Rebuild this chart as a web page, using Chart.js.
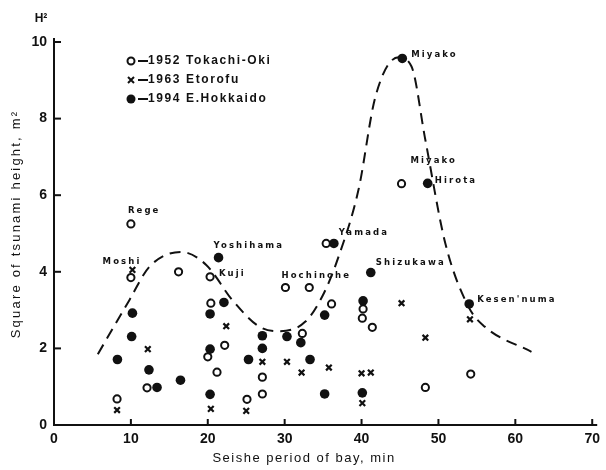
<!DOCTYPE html>
<html>
<head>
<meta charset="utf-8">
<script src="https://cdn.jsdelivr.net/npm/chart.js@4"></script>
<style>
  html, body { margin: 0; padding: 0; background: #fff; }
  #wrap { width: 606px; height: 470px; }
</style>
</head>
<body>
<div id="wrap"><canvas id="chart"></canvas></div>
<script>
// 1952 Tokachi-Oki (open circles)
const tokachiX = [10, 10, 16.2, 20.3, 20.4, 22.2, 20.0, 21.2, 12.1, 8.2, 25.1, 27.1, 27.1, 30.1, 33.2, 32.3, 35.4, 36.1, 40.2, 40.1, 41.4, 45.2, 48.3, 54.2];
const tokachiY = [5.25, 3.85, 4.0, 3.87, 3.18, 2.08, 1.78, 1.38, 0.97, 0.68, 0.67, 1.25, 0.81, 3.59, 3.59, 2.39, 4.74, 3.16, 3.03, 2.79, 2.55, 6.3, 0.98, 1.33];

// 1963 Etorofu (crosses)
const etorofuX = [10.2, 12.2, 8.2, 22.4, 20.4, 25.0, 27.1, 30.3, 32.2, 35.75, 40.0, 41.2, 40.1, 45.2, 48.3, 54.1];
const etorofuY = [4.05, 1.98, 0.39, 2.58, 0.42, 0.37, 1.65, 1.65, 1.37, 1.5, 1.35, 1.37, 0.57, 3.18, 2.28, 2.76];

// 1994 E.Hokkaido (filled circles)
const hokkaidoX = [10.2, 10.1, 8.25, 12.35, 13.4, 16.45, 21.4, 20.3, 22.1, 20.3, 20.3, 25.3, 27.1, 27.1, 30.3, 32.1, 33.3, 35.2, 35.2, 36.4, 41.2, 40.2, 40.1, 45.3, 48.6, 54.0];
const hokkaidoY = [2.92, 2.31, 1.71, 1.44, 0.98, 1.17, 4.37, 2.9, 3.2, 1.98, 0.8, 1.71, 2.33, 2.0, 2.31, 2.15, 1.71, 2.87, 0.81, 4.74, 3.98, 3.24, 0.84, 9.57, 6.31, 3.16];

// dashed envelope
const curveX = [5.7, 9.8, 12.4, 16.5, 19.8, 23.2, 26.7, 29.3, 32.7, 35.1, 37.0, 39.6, 41.8, 44.8, 46.5, 48.3, 50.9, 53.9, 56.0, 62.1];
const curveY = [1.85, 3.26, 4.13, 4.52, 4.18, 3.26, 2.57, 2.45, 2.7, 3.44, 4.39, 6.14, 8.57, 9.6, 9.36, 7.44, 4.74, 3.09, 2.57, 1.91];

// place names: [x, y, name]
const places = [
    [10, 5.25, 'Rege'],
    [10.2, 4.05, 'Moshi'],
    [21.4, 4.37, 'Yoshihama'],
    [20.3, 3.87, 'Kuji'],
    [30.1, 3.59, 'Hochinohe'],
    [36.4, 4.74, 'Yamada'],
    [41.2, 3.98, 'Shizukawa'],
    [45.3, 9.57, 'Miyako'],
    [45.2, 6.3, 'Miyako'],
    [48.6, 6.31, 'Hirota'],
    [54.0, 3.16, "Kesen'numa"]
];
// pixel offsets for each name, and alignment
const placeOffsets = [
    [-3, -13, 'left'], [9, -8, 'right'], [-5, -12, 'left'], [9, -3, 'left'],
    [-4, -12, 'left'], [5, -11, 'left'], [5, -10, 'left'], [9, -4, 'left'],
    [9, -23, 'left'], [7, -3, 'left'], [8, -4, 'left']
];

const xTicks = [0, 10, 20, 30, 40, 50, 60, 70];
const yTicks = [0, 2, 4, 6, 8, 10];

const toPoints = (xs, ys) => xs.map((x, i) => ({ x: x, y: ys[i] }));
const ink = '#111';

const extras = {
    id: 'extras',
    afterDraw(chart) {
        const ctx = chart.ctx;
        const xs = chart.scales.x;
        const ys = chart.scales.y;
        const area = chart.chartArea;
        ctx.save();
        ctx.strokeStyle = ink;
        ctx.fillStyle = ink;
        ctx.lineWidth = 2;

        // axis lines run a little past the ends
        ctx.beginPath();
        ctx.moveTo(area.left, area.top - 4);
        ctx.lineTo(area.left, area.top);
        ctx.moveTo(area.right, area.bottom);
        ctx.lineTo(area.right + 5, area.bottom);
        ctx.stroke();

        // inward ticks
        xTicks.forEach(v => {
            if (v === 0) return;
            const px = xs.getPixelForValue(v);
            ctx.beginPath();
            ctx.moveTo(px, area.bottom);
            ctx.lineTo(px, area.bottom - 6);
            ctx.stroke();
        });
        yTicks.forEach(v => {
            if (v === 0) return;
            const py = ys.getPixelForValue(v);
            ctx.beginPath();
            ctx.moveTo(area.left, py);
            ctx.lineTo(area.left + 7, py);
            ctx.stroke();
        });

        // H² above the axis
        ctx.font = 'bold 12px "Liberation Sans"';
        ctx.textAlign = 'center';
        ctx.textBaseline = 'middle';
        ctx.fillText('H²', area.left - 13, 19);

        // axis titles
        ctx.font = '13px "Liberation Sans"';
        ctx.letterSpacing = '1.5px';
        ctx.fillText('Seishe period of bay, min', 304, 458);
        ctx.save();
        ctx.translate(16, 224);
        ctx.rotate(-Math.PI / 2);
        ctx.letterSpacing = '2.2px';
        ctx.fillText('Square of tsunami height, m²', 0, 0);
        ctx.restore();

        // legend
        const lx = 131;
        const rows = [61, 80, 99];
        ctx.lineWidth = 2;
        ctx.beginPath();
        ctx.arc(lx, rows[0], 3.5, 0, Math.PI * 2);
        ctx.stroke();
        ctx.beginPath();
        ctx.moveTo(lx - 3, rows[1] - 3); ctx.lineTo(lx + 3, rows[1] + 3);
        ctx.moveTo(lx + 3, rows[1] - 3); ctx.lineTo(lx - 3, rows[1] + 3);
        ctx.stroke();
        ctx.beginPath();
        ctx.arc(lx, rows[2], 4.5, 0, Math.PI * 2);
        ctx.fill();
        rows.forEach(r => {
            ctx.beginPath();
            ctx.moveTo(138, r);
            ctx.lineTo(148, r);
            ctx.stroke();
        });
        ctx.font = 'bold 12px "Liberation Sans"';
        ctx.textAlign = 'left';
        ctx.letterSpacing = '1.6px';
        ctx.fillText('1952 Tokachi-Oki', 148, rows[0]);
        ctx.fillText('1963 Etorofu', 148, rows[1]);
        ctx.fillText('1994 E.Hokkaido', 148, rows[2]);

        // place names
        ctx.font = 'bold 8.5px "DejaVu Sans"';
        ctx.letterSpacing = '2.1px';
        places.forEach((p, i) => {
            const off = placeOffsets[i];
            ctx.textAlign = off[2];
            ctx.fillText(p[2], xs.getPixelForValue(p[0]) + off[0], ys.getPixelForValue(p[1]) + off[1]);
        });
        ctx.restore();
    }
};

new Chart(document.getElementById('chart'), {
    type: 'scatter',
    data: {
        datasets: [
            {
                label: '1952 Tokachi-Oki',
                data: toPoints(tokachiX, tokachiY),
                pointStyle: 'circle',
                pointRadius: 3.6,
                borderWidth: 2,
                borderColor: ink,
                backgroundColor: '#fff'
            },
            {
                label: '1963 Etorofu',
                data: toPoints(etorofuX, etorofuY),
                pointStyle: 'crossRot',
                pointRadius: 4,
                borderWidth: 2.2,
                borderColor: ink
            },
            {
                label: '1994 E.Hokkaido',
                data: toPoints(hokkaidoX, hokkaidoY),
                pointStyle: 'circle',
                pointRadius: 4.8,
                borderWidth: 0,
                borderColor: ink,
                backgroundColor: ink
            },
            {
                label: 'envelope',
                data: toPoints(curveX, curveY),
                showLine: true,
                pointRadius: 0,
                borderColor: ink,
                borderWidth: 2,
                borderDash: [11, 7],
                cubicInterpolationMode: 'monotone',
                fill: false
            }
        ]
    },
    options: {
        responsive: true,
        maintainAspectRatio: false,
        animation: false,
        layout: { padding: { top: 42, right: 11, left: 0, bottom: 0 } },
        plugins: {
            legend: { display: false },
            tooltip: { enabled: false }
        },
        scales: {
            x: {
                type: 'linear',
                min: 0,
                max: 70,
                afterBuildTicks: s => { s.ticks = xTicks.map(v => ({ value: v })); },
                afterFit: s => { s.height = 45; },
                grid: { drawOnChartArea: false, drawTicks: false },
                border: { color: ink, width: 2 },
                ticks: {
                    padding: 6,
                    color: ink,
                    font: { family: 'Liberation Sans', size: 14, weight: 'bold' }
                }
            },
            y: {
                type: 'linear',
                min: 0,
                max: 10,
                afterBuildTicks: s => { s.ticks = yTicks.map(v => ({ value: v })); },
                afterFit: s => { s.width = 54; },
                grid: { drawOnChartArea: false, drawTicks: false },
                border: { color: ink, width: 2 },
                ticks: {
                    padding: 7,
                    color: ink,
                    font: { family: 'Liberation Sans', size: 14, weight: 'bold' }
                }
            }
        }
    },
    plugins: [extras]
});
</script>
</body>
</html>
